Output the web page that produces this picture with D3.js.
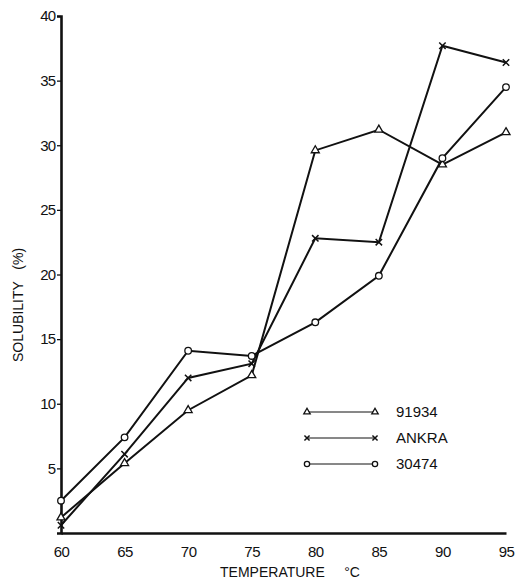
<!DOCTYPE html>
<html>
<head>
<meta charset="UTF-8">
<title>Solubility vs temperature</title>
<script src="https://d3js.org/d3.v7.min.js"></script>
<style>
  body { margin: 0; background: #fff; }
  text { font-family: "Liberation Sans", Arial, sans-serif; fill: #111; white-space: pre; }
</style>
</head>
<body>
<svg width="521" height="585"></svg>
<script>
// data
const temps = [60, 65, 70, 75, 80, 85, 90, 95];
const s91934 = [1.2, 5.4, 9.5, 12.2, 29.6, 31.2, 28.5, 31.0];
const ankra = [0.6, 6.1, 12.0, 13.1, 22.8, 22.5, 37.7, 36.4];
const s30474 = [2.5, 7.4, 14.1, 13.7, 16.3, 19.9, 29.0, 34.5];
const seriesNames = ['91934', 'ANKRA', '30474'];
const seriesMarks = ['triangle', 'cross', 'circle'];
const yTicks = [5, 10, 15, 20, 25, 30, 35, 40];

const series = [s91934, ankra, s30474].map((v, i) => ({ name: seriesNames[i], mark: seriesMarks[i], values: v }));

const svg = d3.select('svg');
const x = d3.scaleLinear().domain([60, 95]).range([61, 506]);
const y = d3.scaleLinear().domain([0, 40]).range([533, 16]);

// axes
const gx = svg.append('g').attr('transform', `translate(0,${y(0)})`)
  .call(d3.axisBottom(x).tickValues(temps).tickSize(0).tickPadding(13).tickFormat(d3.format('d')));
gx.select('.domain').attr('stroke', '#111').attr('stroke-width', 2.6);
gx.selectAll('text').attr('font-size', 15).attr('fill', '#111').attr('letter-spacing', -0.5);

const gy = svg.append('g').attr('transform', `translate(${x(60)},0)`)
  .call(d3.axisLeft(y).tickValues(yTicks).tickSize(4).tickPadding(2));
gy.select('.domain').attr('stroke', '#111').attr('stroke-width', 2.6);
gy.selectAll('line').attr('stroke', '#111').attr('stroke-width', 1.3);
gy.selectAll('text').attr('font-size', 15).attr('fill', '#111').attr('letter-spacing', -1);

svg.append('text').attr('transform', 'translate(23,305) rotate(-90)')
  .attr('text-anchor', 'middle').attr('font-size', 14).text('SOLUBILITY   (%)');
svg.append('text').attr('x', 290).attr('y', 577)
  .attr('text-anchor', 'middle').attr('font-size', 14).text('TEMPERATURE     °C');

// markers
function drawMark(g, type, cx, cy, k = 1) {
  if (type === 'circle') {
    g.append('circle').attr('cx', cx).attr('cy', cy).attr('r', 3.3 * k)
      .attr('fill', '#fff').attr('stroke', '#111').attr('stroke-width', 1.3);
  } else if (type === 'triangle') {
    g.append('path').attr('d', d3.symbol(d3.symbolTriangle, 28 * k * k)())
      .attr('transform', `translate(${cx},${cy})`)
      .attr('fill', '#fff').attr('stroke', '#111').attr('stroke-width', 1.3);
  } else {
    const r = 3.2 * k;
    g.append('path').attr('d', `M${cx - r},${cy - r}L${cx + r},${cy + r}M${cx - r},${cy + r}L${cx + r},${cy - r}`)
      .attr('stroke', '#111').attr('stroke-width', 1.5);
  }
}

const line = d3.line().x((d, i) => x(temps[i])).y(d => y(d));
series.forEach(s => {
  const g = svg.append('g');
  g.append('path').datum(s.values).attr('d', line)
    .attr('fill', 'none').attr('stroke', '#111').attr('stroke-width', 2);
  s.values.forEach((v, i) => drawMark(g, s.mark, x(temps[i]), y(v)));
});

// legend
const lg = svg.append('g');
series.forEach((s, i) => {
  const ly = 412 + i * 26;
  lg.append('line').attr('x1', 307).attr('x2', 375).attr('y1', ly).attr('y2', ly)
    .attr('stroke', '#111').attr('stroke-width', 1);
  drawMark(lg, s.mark, 307, ly, 0.8);
  drawMark(lg, s.mark, 375, ly, 0.8);
  lg.append('text').attr('x', 396).attr('y', ly + 5).attr('font-size', 15).text(s.name);
});
</script>
</body>
</html>
